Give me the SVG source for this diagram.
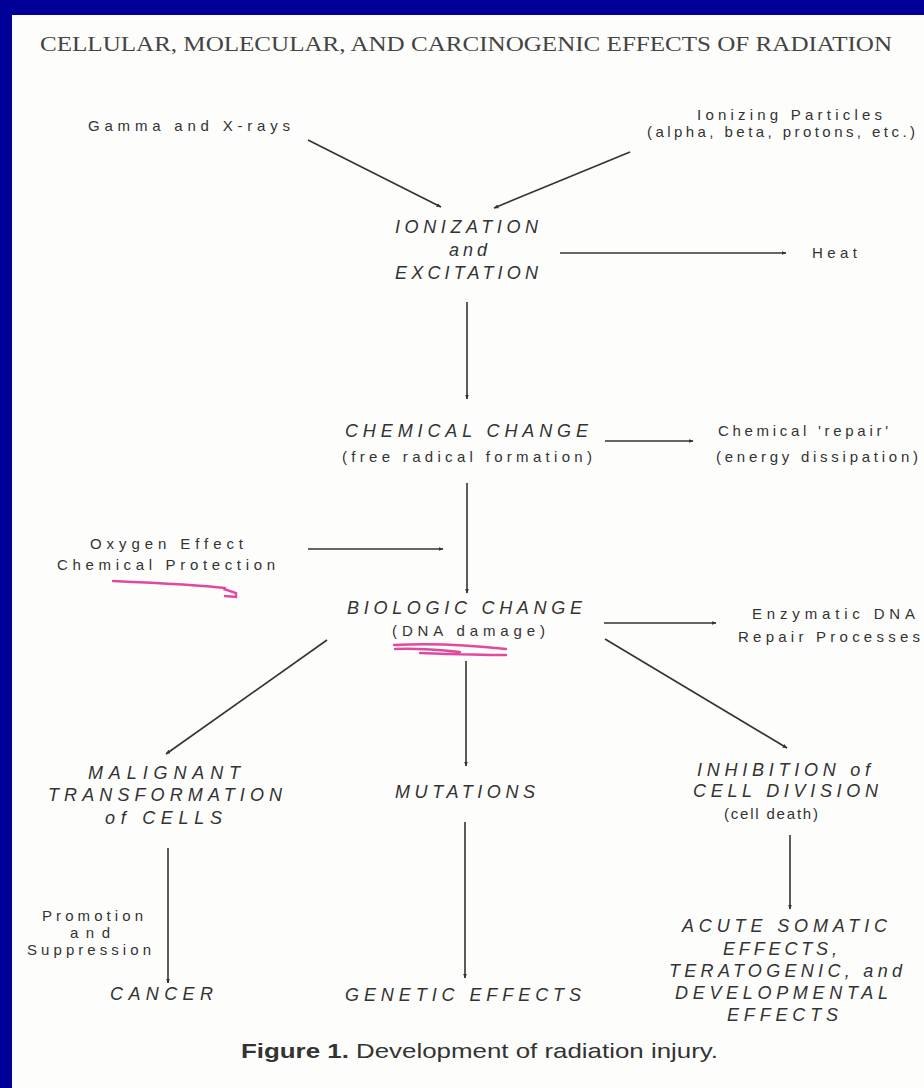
<svg xmlns="http://www.w3.org/2000/svg" width="924" height="1088" viewBox="0 0 924 1088">
<defs>
<style>
.t{font-family:"Liberation Sans",Arial,sans-serif;fill:#333;}
.m{font-size:18px;font-style:italic;}
.s{font-size:15px;}
.ser{font-family:"Liberation Serif","Times New Roman",serif;font-size:20px;fill:#444;}
.c{stroke:#333;stroke-width:1.6;fill:none;marker-end:url(#ah);}
.pk{stroke:#e2489e;stroke-width:2.4;fill:none;stroke-linecap:round;}
</style>
<marker id="ah" viewBox="0 0 10 10" refX="9" refY="5" markerWidth="5" markerHeight="5" orient="auto" markerUnits="userSpaceOnUse">
<path d="M0,1 L10,5 L0,9 z" fill="#333"/>
</marker>
</defs>
<rect x="0" y="0" width="924" height="1088" fill="#000099"/>
<rect x="12" y="15" width="912" height="1073" fill="#fdfdfc"/>
<text class="ser" x="40" y="51" textLength="852" lengthAdjust="spacingAndGlyphs">CELLULAR, MOLECULAR, AND CARCINOGENIC EFFECTS OF RADIATION</text>
<g id="connectors">
<line class="c" x1="308" y1="140" x2="441" y2="207"/>
<line class="c" x1="630" y1="152" x2="494" y2="208"/>
<line class="c" x1="560" y1="253" x2="786" y2="253"/>
<line class="c" x1="467" y1="302" x2="467" y2="399"/>
<line class="c" x1="605" y1="441" x2="693" y2="441"/>
<line class="c" x1="467" y1="483" x2="467" y2="593"/>
<line class="c" x1="308" y1="549" x2="443" y2="549"/>
<line class="c" x1="604" y1="623" x2="716" y2="623"/>
<line class="c" x1="327" y1="640" x2="166" y2="754"/>
<line class="c" x1="466" y1="661" x2="466" y2="766"/>
<line class="c" x1="605" y1="639" x2="787" y2="748"/>
<line class="c" x1="168" y1="848" x2="168" y2="983"/>
<line class="c" x1="465" y1="822" x2="465" y2="978"/>
<line class="c" x1="790" y1="835" x2="790" y2="909"/>
</g>
<g id="gamma"><text class="t s" x="88" y="131" textLength="202" lengthAdjust="spacing">Gamma and X-rays</text></g>
<g id="particles">
<text class="t s" x="697" y="120" textLength="185" lengthAdjust="spacing">Ionizing Particles</text>
<text class="t s" x="647" y="137" textLength="268" lengthAdjust="spacing">(alpha, beta, protons, etc.)</text>
</g>
<g id="ionization">
<text class="t m" x="395" y="233" textLength="143" lengthAdjust="spacing">IONIZATION</text>
<text class="t m" x="449" y="256" textLength="38" lengthAdjust="spacing">and</text>
<text class="t m" x="395" y="279" textLength="143" lengthAdjust="spacing">EXCITATION</text>
</g>
<g id="heat"><text class="t s" x="812" y="258" textLength="45" lengthAdjust="spacing">Heat</text></g>
<g id="chemical">
<text class="t m" x="345" y="437" textLength="243" lengthAdjust="spacing">CHEMICAL CHANGE</text>
<text class="t s" x="342" y="462" textLength="250" lengthAdjust="spacing">(free radical formation)</text>
</g>
<g id="chemrepair">
<text class="t s" x="718" y="436" textLength="170" lengthAdjust="spacing">Chemical 'repair'</text>
<text class="t s" x="716" y="462" textLength="202" lengthAdjust="spacing">(energy dissipation)</text>
</g>
<g id="oxygen">
<text class="t s" x="90" y="549" textLength="153" lengthAdjust="spacing">Oxygen Effect</text>
<text class="t s" x="57" y="570" textLength="218" lengthAdjust="spacing">Chemical Protection</text>
<path class="pk" d="M113,581 C160,583 200,585 225,588 M224,589 L236,593 L236,597 L225,596"/>
</g>
<g id="biologic">
<text class="t m" x="347" y="614" textLength="235" lengthAdjust="spacing">BIOLOGIC CHANGE</text>
<text class="t s" x="392" y="636" textLength="153" lengthAdjust="spacing">(DNA damage)</text>
<path class="pk" d="M394,645 C430,643 470,645 506,649 M395,649 C420,648 440,650 460,652 M420,653 C450,654 480,655 506,655"/>
</g>
<g id="enzymatic">
<text class="t s" x="752" y="619" textLength="163" lengthAdjust="spacing">Enzymatic DNA</text>
<text class="t s" x="738" y="642" textLength="182" lengthAdjust="spacing">Repair Processes</text>
</g>
<g id="malignant">
<text class="t m" x="88" y="779" textLength="152" lengthAdjust="spacing">MALIGNANT</text>
<text class="t m" x="48" y="801" textLength="234" lengthAdjust="spacing">TRANSFORMATION</text>
<text class="t m" x="105" y="824" textLength="117" lengthAdjust="spacing">of CELLS</text>
</g>
<g id="mutations"><text class="t m" x="395" y="798" textLength="140" lengthAdjust="spacing">MUTATIONS</text></g>
<g id="inhibition">
<text class="t m" x="697" y="776" textLength="173" lengthAdjust="spacing">INHIBITION of</text>
<text class="t m" x="693" y="797" textLength="185" lengthAdjust="spacing">CELL DIVISION</text>
<text class="t s" x="724" y="819" textLength="94" lengthAdjust="spacing">(cell death)</text>
</g>
<g id="promotion">
<text class="t s" x="42" y="921" textLength="101" lengthAdjust="spacing">Promotion</text>
<text class="t s" x="70" y="938" textLength="40" lengthAdjust="spacing">and</text>
<text class="t s" x="27" y="955" textLength="124" lengthAdjust="spacing">Suppression</text>
</g>
<g id="cancer"><text class="t m" x="110" y="1000" textLength="103" lengthAdjust="spacing">CANCER</text></g>
<g id="genetic"><text class="t m" x="345" y="1001" textLength="236" lengthAdjust="spacing">GENETIC EFFECTS</text></g>
<g id="acute">
<text class="t m" x="682" y="932" textLength="205" lengthAdjust="spacing">ACUTE SOMATIC</text>
<text class="t m" x="723" y="955" textLength="114" lengthAdjust="spacing">EFFECTS,</text>
<text class="t m" x="669" y="977" textLength="233" lengthAdjust="spacing">TERATOGENIC, and</text>
<text class="t m" x="675" y="999" textLength="213" lengthAdjust="spacing">DEVELOPMENTAL</text>
<text class="t m" x="727" y="1021" textLength="111" lengthAdjust="spacing">EFFECTS</text>
</g>
<g id="caption">
<text class="t" x="241" y="1058" font-size="21" fill="#333" textLength="477" lengthAdjust="spacingAndGlyphs"><tspan font-weight="bold">Figure 1.</tspan> Development of radiation injury.</text>
</g>
</svg>
